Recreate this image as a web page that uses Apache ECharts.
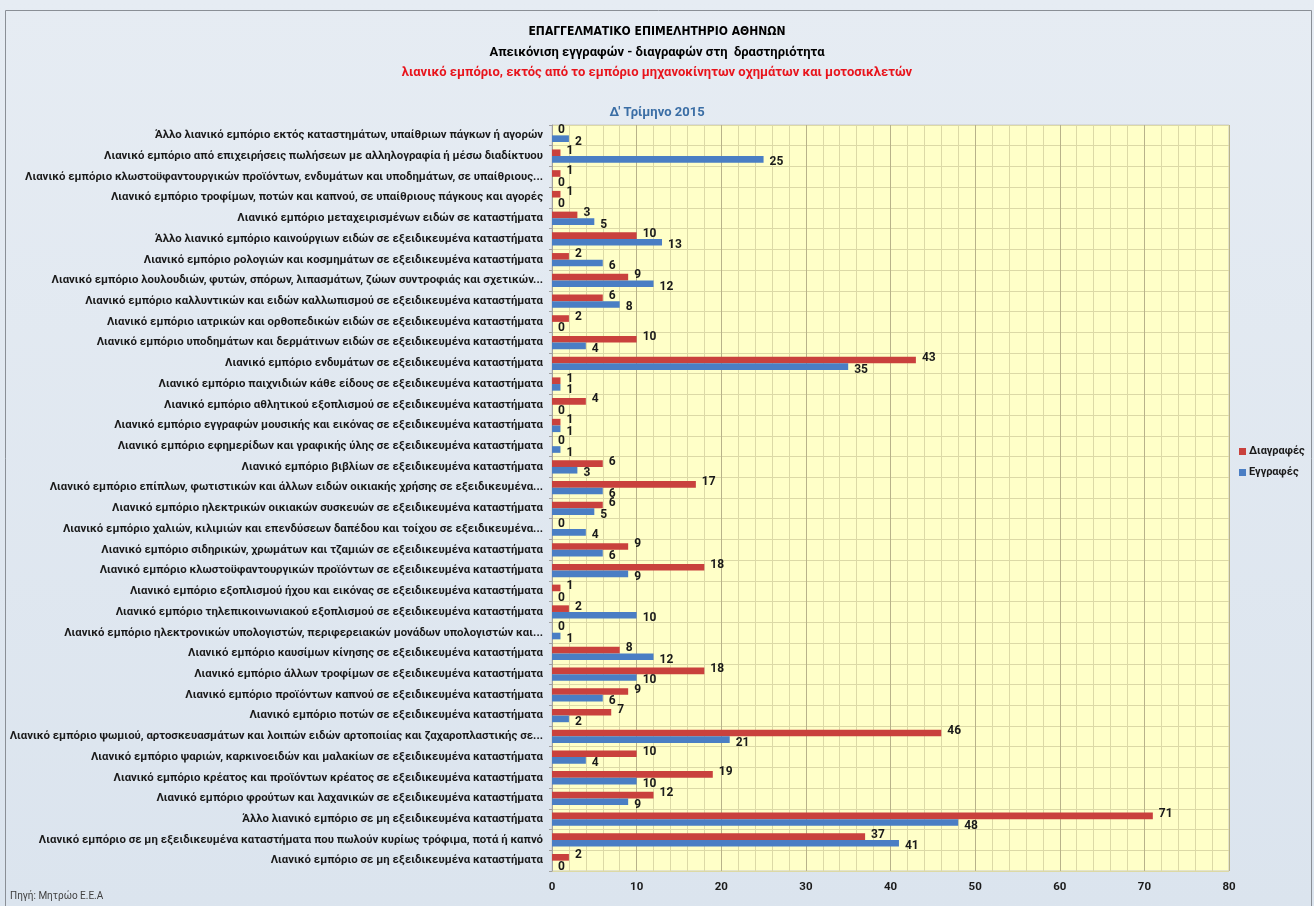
<!DOCTYPE html>
<html>
<head>
<meta charset="utf-8">
<script src="https://cdn.jsdelivr.net/npm/echarts@6/dist/echarts.min.js"></script>
<style>
  html, body { margin: 0; padding: 0; background: #fff; }
  #main { width: 1314px; height: 906px; }
</style>
</head>
<body>
<div id="main"></div>
<script>
// categories, top to bottom as in the chart
var categories = [
  'Άλλο λιανικό εμπόριο εκτός καταστημάτων, υπαίθριων πάγκων ή αγορών',
  'Λιανικό εμπόριο από επιχειρήσεις πωλήσεων με αλληλογραφία ή μέσω διαδίκτυου',
  'Λιανικό εμπόριο κλωστοϋφαντουργικών προϊόντων, ενδυμάτων και υποδημάτων, σε υπαίθριους...',
  'Λιανικό εμπόριο τροφίμων, ποτών και καπνού, σε υπαίθριους πάγκους και αγορές',
  'Λιανικό εμπόριο μεταχειρισμένων ειδών σε καταστήματα',
  'Άλλο λιανικό εμπόριο καινούργιων ειδών σε εξειδικευμένα καταστήματα',
  'Λιανικό εμπόριο ρολογιών και κοσμημάτων σε εξειδικευμένα καταστήματα',
  'Λιανικό εμπόριο λουλουδιών, φυτών, σπόρων, λιπασμάτων, ζώων συντροφιάς και σχετικών...',
  'Λιανικό εμπόριο καλλυντικών και ειδών καλλωπισμού σε εξειδικευμένα καταστήματα',
  'Λιανικό εμπόριο ιατρικών και ορθοπεδικών ειδών σε εξειδικευμένα καταστήματα',
  'Λιανικό εμπόριο υποδημάτων και δερμάτινων ειδών σε εξειδικευμένα καταστήματα',
  'Λιανικό εμπόριο ενδυμάτων σε εξειδικευμένα καταστήματα',
  'Λιανικό εμπόριο παιχνιδιών κάθε είδους σε εξειδικευμένα καταστήματα',
  'Λιανικό εμπόριο αθλητικού εξοπλισμού σε εξειδικευμένα καταστήματα',
  'Λιανικό εμπόριο εγγραφών μουσικής και εικόνας σε εξειδικευμένα καταστήματα',
  'Λιανικό εμπόριο εφημερίδων και γραφικής ύλης σε εξειδικευμένα καταστήματα',
  'Λιανικό εμπόριο βιβλίων σε εξειδικευμένα καταστήματα',
  'Λιανικό εμπόριο επίπλων, φωτιστικών και άλλων ειδών οικιακής χρήσης σε εξειδικευμένα...',
  'Λιανικό εμπόριο ηλεκτρικών οικιακών συσκευών σε εξειδικευμένα καταστήματα',
  'Λιανικό εμπόριο χαλιών, κιλιμιών και επενδύσεων δαπέδου και τοίχου σε εξειδικευμένα...',
  'Λιανικό εμπόριο σιδηρικών, χρωμάτων και τζαμιών σε εξειδικευμένα καταστήματα',
  'Λιανικό εμπόριο κλωστοϋφαντουργικών προϊόντων σε εξειδικευμένα καταστήματα',
  'Λιανικό εμπόριο εξοπλισμού ήχου και εικόνας σε εξειδικευμένα καταστήματα',
  'Λιανικό εμπόριο τηλεπικοινωνιακού εξοπλισμού σε εξειδικευμένα καταστήματα',
  'Λιανικό εμπόριο ηλεκτρονικών υπολογιστών, περιφερειακών μονάδων υπολογιστών και...',
  'Λιανικό εμπόριο καυσίμων κίνησης σε εξειδικευμένα καταστήματα',
  'Λιανικό εμπόριο άλλων τροφίμων σε εξειδικευμένα καταστήματα',
  'Λιανικό εμπόριο προϊόντων καπνού σε εξειδικευμένα καταστήματα',
  'Λιανικό εμπόριο ποτών σε εξειδικευμένα καταστήματα',
  'Λιανικό εμπόριο ψωμιού, αρτοσκευασμάτων και λοιπών ειδών αρτοποιίας και ζαχαροπλαστικής σε...',
  'Λιανικό εμπόριο ψαριών, καρκινοειδών και μαλακίων σε εξειδικευμένα καταστήματα',
  'Λιανικό εμπόριο κρέατος και προϊόντων κρέατος σε εξειδικευμένα καταστήματα',
  'Λιανικό εμπόριο φρούτων και λαχανικών σε εξειδικευμένα καταστήματα',
  'Άλλο λιανικό εμπόριο σε μη εξειδικευμένα καταστήματα',
  'Λιανικό εμπόριο σε μη εξειδικευμένα καταστήματα που πωλούν κυρίως τρόφιμα, ποτά ή καπνό',
  'Λιανικό εμπόριο σε μη εξειδικευμένα καταστήματα'
];

// Διαγραφές (deletions)
var diagrafes = [0, 1, 1, 1, 3, 10, 2, 9, 6, 2, 10, 43, 1, 4, 1, 0, 6, 17, 6, 0, 9, 18, 1, 2, 0, 8, 18, 9, 7, 46, 10, 19, 12, 71, 37, 2];
// Εγγραφές (registrations)
var eggrafes = [2, 25, 0, 0, 5, 13, 6, 12, 8, 0, 4, 35, 1, 0, 1, 1, 3, 6, 5, 4, 6, 9, 0, 10, 1, 12, 10, 6, 2, 21, 4, 10, 9, 48, 41, 0];

var seriesNames = ['Διαγραφές', 'Εγγραφές'];
var xTicks = [0, 10, 20, 30, 40, 50, 60, 70, 80];

var font = 'Roboto';
var chart = echarts.init(document.getElementById('main'));

chart.setOption({
  backgroundColor: new echarts.graphic.LinearGradient(0, 0, 0, 1, [
    { offset: 0, color: '#e6ecf3' },
    { offset: 1, color: '#dbe4ee' }
  ]),
  textStyle: { fontFamily: font },
  graphic: [
    {
      type: 'rect', left: 3, top: 8, silent: true,
      shape: { width: 1306, height: 910 },
      style: { fill: 'none', stroke: '#8a8f96', lineWidth: 1 }
    },
    {
      type: 'text', left: 10, top: 891,
      style: { text: 'Πηγή: Μητρώο Ε.Ε.Α', fill: '#404040', font: '10px ' + font }
    }
  ],
  title: [
    {
      text: 'ΕΠΑΓΓΕΛΜΑΤΙΚΟ ΕΠΙΜΕΛΗΤΗΡΙΟ ΑΘΗΝΩΝ', left: 'center', top: 21,
      textStyle: { fontSize: 12, fontWeight: 'bold', color: '#000',
        fontFamily: "'Liberation Sans Narrow', 'DejaVu Sans Condensed', Roboto" }
    },
    {
      text: 'Απεικόνιση εγγραφών - διαγραφών στη  δραστηριότητα', left: 'center', top: 41,
      textStyle: { fontSize: 13, fontWeight: 'bold', color: '#000', fontFamily: font }
    },
    {
      text: 'λιανικό εμπόριο, εκτός από το εμπόριο μηχανοκίνητων οχημάτων και μοτοσικλετών', left: 'center', top: 61,
      textStyle: { fontSize: 13, fontWeight: 'bold', color: '#e8141c', fontFamily: font }
    },
    {
      text: 'Δ\' Τρίμηνο 2015', left: 'center', top: 101,
      textStyle: { fontSize: 13, fontWeight: 'bold', color: '#3b6ea5', fontFamily: font }
    }
  ],
  legend: {
    orient: 'vertical',
    left: 1234, top: 441,
    itemWidth: 7, itemHeight: 7, itemGap: 10,
    icon: 'rect',
    data: seriesNames,
    textStyle: { fontSize: 11, fontWeight: 'bold', color: '#1a1a1a', padding: [0, 0, 0, -2] }
  },
  grid: { left: 552, right: 85, top: 125, bottom: 35, containLabel: false,
    show: true, backgroundColor: '#ffffc8', borderColor: '#c8c8c8', borderWidth: 1 },
  xAxis: {
    type: 'value', min: 0, max: 80, interval: 10,
    axisLine: { show: false },
    axisTick: { show: false },
    axisLabel: {
      fontSize: 11.5, fontWeight: 'bold', color: '#1a1a1a', margin: 10,
      formatter: function (v) { return xTicks.indexOf(v) >= 0 ? String(v) : ''; }
    },
    splitLine: { show: true, lineStyle: { color: '#b8b28a', width: 1 } },
    minorTick: { show: false, splitNumber: 5 },
    minorSplitLine: { show: true, lineStyle: { color: '#dcd9a6', width: 1 } }
  },
  yAxis: {
    type: 'category', inverse: true, data: categories,
    axisLine: { show: true, lineStyle: { color: '#a0a0a0' } },
    axisTick: { show: true, length: 3, lineStyle: { color: '#a0a0a0' } },
    axisLabel: { fontSize: 11.4, fontWeight: 'bold', color: '#1a1a1a', margin: 9, interval: 0 },
    splitLine: { show: true, lineStyle: { color: '#dcd9a6', width: 1 } }
  },
  series: [
    {
      name: seriesNames[0], type: 'bar', data: diagrafes,
      barGap: '0%', barCategoryGap: '36%',
      itemStyle: { color: '#c9413d' },
      label: { show: true, position: 'right', distance: 6, offset: [0, -2],
        fontSize: 12, fontWeight: 'bold', color: '#1a1a1a' }
    },
    {
      name: seriesNames[1], type: 'bar', data: eggrafes,
      barGap: '0%', barCategoryGap: '36%',
      itemStyle: { color: '#4a7ec4' },
      label: { show: true, position: 'right', distance: 6, offset: [0, 3],
        fontSize: 12, fontWeight: 'bold', color: '#1a1a1a' }
    }
  ]
});
</script>
</body>
</html>
